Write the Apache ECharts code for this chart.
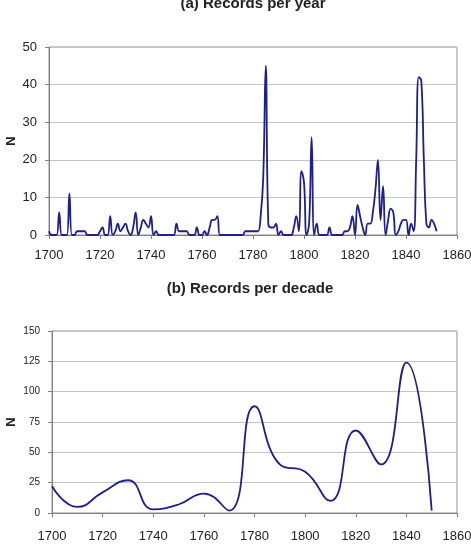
<!DOCTYPE html>
<html>
<head>
<meta charset="utf-8">
<script src="https://cdn.jsdelivr.net/npm/echarts@6/dist/echarts.min.js"></script>
<style>
  html, body { margin: 0; padding: 0; background: #fff; }
  #main { width: 471px; height: 545px; }
</style>
</head>
<body>
<div id="main"></div>
<script>
// records per year, starting at 1700
var firstYear = 1700;
var perYear = [
    1, 0, 0, 0, 6, 0, 0, 0, 11, 0,      // 1700s
    0, 1, 1, 1, 1, 0, 0, 0, 0, 0,       // 1710s
    1, 2, 0, 0, 5, 0, 1, 3, 1, 2,       // 1720s
    3, 1, 0, 2, 6, 0, 2, 4, 3, 2,       // 1730s
    5, 0, 1, 0, 0, 0, 0, 0, 0, 0,       // 1740s
    3, 1, 1, 1, 1, 0, 0, 0, 2, 0,       // 1750s
    0, 1, 0, 2, 4, 4, 5, 0, 0, 0,       // 1760s
    0, 0, 0, 0, 0, 0, 0, 1, 1, 1,       // 1770s
    1, 1, 1, 5, 15, 45, 3, 2, 2, 3,     // 1780s
    0, 1, 0, 0, 0, 0, 2, 5, 1, 17,      // 1790s
    14, 0, 3, 26, 0, 3, 0, 0, 0, 0,     // 1800s
    2, 0, 0, 0, 0, 0, 1, 1, 2, 5,       // 1810s
    0, 8, 5, 2, 0, 3, 3, 6, 12, 20,     // 1820s
    4, 13, 0, 4, 7, 6, 0, 1, 3, 4,      // 1830s
    4, 0, 3, 1, 20, 42, 41, 20, 3, 2,   // 1840s
    4, 3, 1                             // 1850s
];

// records per decade
var decades = [1700, 1710, 1720, 1730, 1740, 1750, 1760, 1770, 1780, 1790, 1800, 1810, 1820, 1830, 1840, 1850];
var perDecade = [22, 5, 17, 27, 3, 7, 16, 2, 88, 40, 34, 10, 68, 40, 124, 2];

var xTicks = [1700, 1720, 1740, 1760, 1780, 1800, 1820, 1840, 1860];

var yearData = [];
for (var i = 0; i < perYear.length; i++) {
    yearData.push([firstYear + i, perYear[i]]);
}
var decadeData = [];
for (var j = 0; j < decades.length; j++) {
    decadeData.push([decades[j], perDecade[j]]);
}

var font = "'Liberation Sans', Arial, sans-serif";
var lineColor = '#1e1e8c';

function xAxisOpt(idx, gap) {
    return {
        type: 'value',
        gridIndex: idx,
        min: xTicks[0],
        max: xTicks[xTicks.length - 1],
        interval: 20,
        axisLine: { show: true, lineStyle: { color: '#808080', width: 1 } },
        axisTick: { show: true, length: 4, lineStyle: { color: '#808080' } },
        axisLabel: {
            color: '#222', fontSize: 13, fontFamily: font, margin: gap,
            formatter: function (v) { return String(v); }
        },
        splitLine: { show: false }
    };
}

function yAxisOpt(idx, max, interval, fs, gap) {
    return {
        type: 'value',
        gridIndex: idx,
        min: 0,
        max: max,
        interval: interval,
        name: 'N',
        nameLocation: 'middle',
        nameRotate: 90,
        nameGap: gap,
        nameMoveOverlap: false,
        nameTextStyle: { color: '#222', fontSize: 13, fontWeight: 'bold', fontFamily: font },
        axisLine: { show: true, lineStyle: { color: '#808080', width: 1 } },
        axisTick: { show: true, length: 4, lineStyle: { color: '#808080' } },
        axisLabel: { color: '#222', fontSize: fs, fontFamily: font, margin: 12 },
        splitLine: { show: true, lineStyle: { color: '#c4c4c4', width: 1 } }
    };
}

var myChart = echarts.init(document.getElementById('main'));

myChart.setOption({
    animation: false,
    backgroundColor: '#fff',
    title: [
        {
            text: '(a) Records per year',
            left: 248, top: -9, textAlign: 'center',
            textStyle: { fontSize: 15, fontWeight: 'bold', color: '#222', fontFamily: font }
        },
        {
            text: '(b) Records per decade',
            left: 245, top: 276, textAlign: 'center',
            textStyle: { fontSize: 15, fontWeight: 'bold', color: '#222', fontFamily: font }
        }
    ],
    grid: [
        { left: 49, right: 14, top: 47, height: 188, outerBoundsMode: 'none', containLabel: false,
          show: true, borderColor: '#909090', borderWidth: 1 },
        { left: 52, right: 14, top: 331, height: 182, outerBoundsMode: 'none', containLabel: false,
          show: true, borderColor: '#909090', borderWidth: 1 }
    ],
    xAxis: [xAxisOpt(0, 14), xAxisOpt(1, 17)],
    yAxis: [yAxisOpt(0, 50, 10, 13, 31), yAxisOpt(1, 150, 25, 10, 34)],
    series: [
        {
            name: 'Records per year',
            type: 'line',
            xAxisIndex: 0,
            yAxisIndex: 0,
            data: yearData,
            smooth: 0.45,
            showSymbol: false,
            lineStyle: { color: lineColor, width: 1.8 }
        },
        {
            name: 'Records per decade',
            type: 'line',
            xAxisIndex: 1,
            yAxisIndex: 1,
            data: decadeData,
            smooth: 0.5,
            showSymbol: false,
            lineStyle: { color: lineColor, width: 1.8 }
        }
    ]
});
</script>
</body>
</html>
